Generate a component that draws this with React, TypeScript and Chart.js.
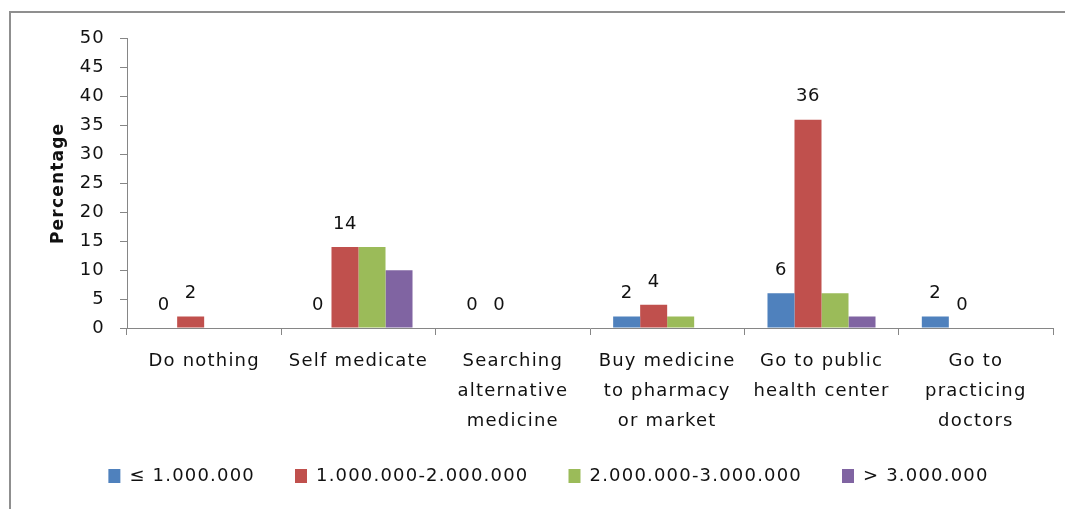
import React, { useEffect, useRef } from "react";
import { Chart, registerables } from "chart.js";

Chart.register(...registerables);

const categories: string[][] = [
  ["Do nothing"],
  ["Self medicate"],
  ["Searching", "alternative", "medicine"],
  ["Buy medicine", "to pharmacy", "or market"],
  ["Go to public", "health center"],
  ["Go to", "practicing", "doctors"],
];
const seriesNames = ["≤ 1.000.000", "1.000.000-2.000.000", "2.000.000-3.000.000", "> 3.000.000"];
const incomeUnder1M = [0, 0, 0, 2, 6, 2];
const income1to2M = [2, 14, 0, 4, 36, 0];
const income2to3M = [0, 14, 0, 2, 6, 0];
const incomeOver3M = [0, 10, 0, 0, 2, 0];
const seriesColors = ["#4F81BD", "#C0504D", "#9BBB59", "#8064A2"];
const labelledSeries = [0, 1];
const yMin = 0;
const yMax = 50;
const yStep = 5;
const yTitle = "Percentage";

const FONT = "'DejaVu Sans', sans-serif";
const AXIS = "#868686";
const SPACING = "1.2px";

const spacingPlugin = {
  id: "letterSpacing",
  beforeUpdate(chart: any) {
    chart.ctx.letterSpacing = SPACING;
  },
  beforeLayout(chart: any) {
    chart.ctx.letterSpacing = SPACING;
  },
  afterLayout(chart: any) {
    // let the multi-line category labels extend below the axis box without clipping
    const x = chart.scales.x;
    if (x) x.bottom += 40;
  },
  beforeDraw(chart: any) {
    chart.ctx.letterSpacing = SPACING;
  },
};

const dataLabelPlugin = {
  id: "dataLabels",
  afterDatasetsDraw(chart: any) {
    const ctx = chart.ctx;
    ctx.save();
    ctx.letterSpacing = "0.5px";
    ctx.font = `18px ${FONT}`;
    ctx.fillStyle = "#111";
    ctx.textAlign = "center";
    ctx.textBaseline = "middle";
    labelledSeries.forEach((di) => {
      const meta = chart.getDatasetMeta(di);
      const values = chart.data.datasets[di].data;
      meta.data.forEach((bar: any, i: number) => {
        ctx.fillText(String(values[i]), bar.x, bar.y - 23);
      });
    });
    ctx.restore();
  },
};

export default function App() {
  const ref = useRef<HTMLCanvasElement | null>(null);
  useEffect(() => {
    if (!ref.current) return;
    const seriesData = [incomeUnder1M, income1to2M, income2to3M, incomeOver3M];
    const chart = new Chart(ref.current, {
      type: "bar",
      data: {
        labels: categories,
        datasets: seriesData.map((d, i) => ({
          label: seriesNames[i],
          data: d,
          backgroundColor: seriesColors[i],
          borderWidth: 0,
          categoryPercentage: 0.7,
          barPercentage: 1,
        })),
      },
      options: {
        responsive: false,
        animation: false,
        layout: { padding: { left: 33, right: 12, top: 25, bottom: 14 } },
        plugins: {
          tooltip: { enabled: false },
          legend: {
            position: "bottom",
            labels: {
              font: { family: FONT, size: 18 },
              color: "#111",
              boxWidth: 12,
              boxHeight: 14,
              padding: 40,
            },
          },
        },
        scales: {
          x: {
            afterFit: (s: any) => {
              s.height = 99;
            },
            grid: {
              display: true,
              drawOnChartArea: false,
              offset: true,
              tickLength: 7,
              color: AXIS,
            },
            border: { color: AXIS, width: 1 },
            ticks: {
              font: { family: FONT, size: 18, lineHeight: 1.67 },
              color: "#111",
              padding: 11,
              maxRotation: 0,
              autoSkip: false,
            },
          },
          y: {
            min: yMin,
            max: yMax,
            afterFit: (s: any) => {
              s.width = 83;
            },
            grid: {
              display: true,
              drawOnChartArea: false,
              tickLength: 7,
              color: AXIS,
            },
            border: { color: AXIS, width: 1 },
            ticks: {
              stepSize: yStep,
              font: { family: FONT, size: 18 },
              color: "#111",
              padding: 15,
            },
            title: {
              display: true,
              text: yTitle,
              font: { family: FONT, size: 17, weight: "bold" },
              color: "#111",
              padding: { top: 4, bottom: 4 },
            },
          },
        },
      },
      plugins: [spacingPlugin, dataLabelPlugin],
    });
    return () => chart.destroy();
  }, []);

  return (
    <div
      style={{
        position: "absolute",
        left: 9,
        top: 11,
        width: 1056,
        height: 498,
        borderLeft: "2px solid #8f8f8f",
        borderTop: "2px solid #8f8f8f",
        background: "#fff",
        overflow: "hidden",
      }}
    >
      <canvas ref={ref} width={1054} height={496} style={{ display: "block" }} />
    </div>
  );
}
